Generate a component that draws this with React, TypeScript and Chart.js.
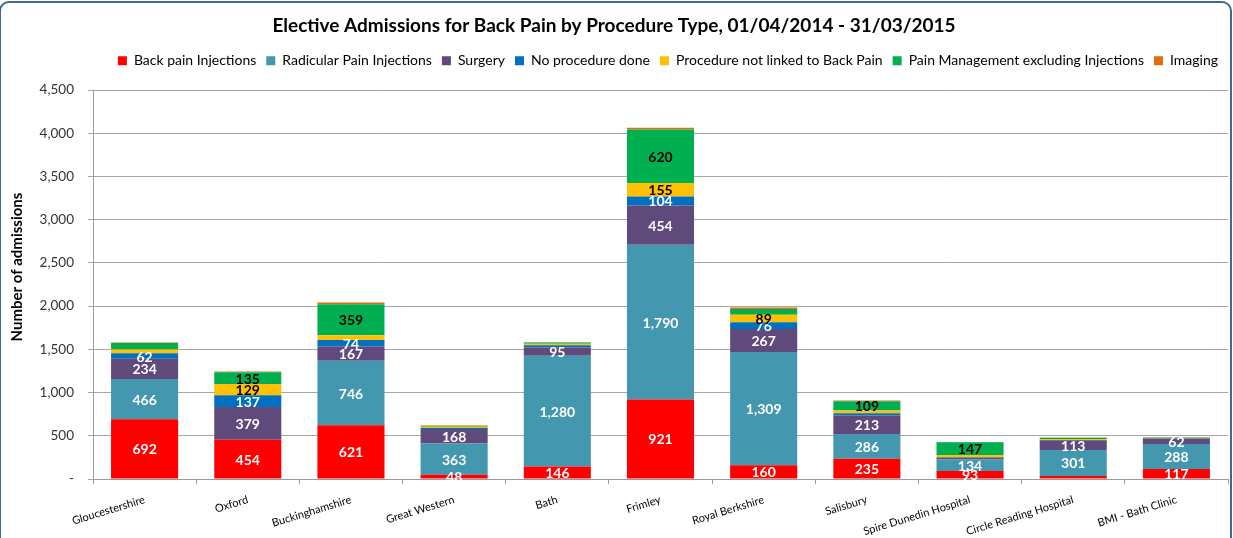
import React, { useEffect, useRef } from "react";
import { Chart, registerables } from "chart.js";

Chart.register(...registerables);

const titleText = "Elective Admissions for Back Pain by Procedure Type, 01/04/2014 - 31/03/2015";
const yAxisTitle = "Number of admissions";

const categories = [
  "Gloucestershire",
  "Oxford",
  "Buckinghamshire",
  "Great Western",
  "Bath",
  "Frimley",
  "Royal Berkshire",
  "Salisbury",
  "Spire Dunedin Hospital",
  "Circle Reading Hospital",
  "BMI - Bath Clinic",
];

const seriesNames = [
  "Back pain Injections",
  "Radicular Pain Injections",
  "Surgery",
  "No procedure done",
  "Procedure not linked to Back Pain",
  "Pain Management excluding Injections",
  "Imaging",
];

const backPainInjections = [692, 454, 621, 48, 146, 921, 160, 235, 93, 35, 117];
const radicularPainInjections = [466, 0, 746, 363, 1280, 1790, 1309, 286, 134, 301, 288];
const surgery = [234, 379, 167, 168, 95, 454, 267, 213, 20, 113, 62];
const noProcedureDone = [62, 137, 74, 12, 25, 104, 76, 27, 5, 3, 3];
const procedureNotLinked = [43, 129, 55, 12, 20, 155, 89, 30, 25, 10, 8];
const painManagement = [77, 135, 359, 10, 12, 620, 65, 109, 147, 15, 5];
const imaging = [5, 10, 20, 6, 3, 20, 18, 8, 3, 3, 2];

// which segments carry a data label in the reference
const backPainShown = [true, true, true, true, true, true, true, true, true, false, true];
const radicularShown = [true, false, true, true, true, true, true, true, true, true, true];
const surgeryShown = [true, true, true, true, true, true, true, true, false, true, true];
const noProcedureShown = [true, true, true, false, false, true, true, false, false, false, false];
const notLinkedShown = [false, true, false, false, false, true, true, false, false, false, false];
const painMgmtShown = [false, true, true, false, false, true, false, true, true, false, false];
const imagingShown = [false, false, false, false, false, false, false, false, false, false, false];

const yTicks = [0, 500, 1000, 1500, 2000, 2500, 3000, 3500, 4000, 4500];

const colors = ["#FF0000", "#4397AE", "#604A7B", "#0070C0", "#FFC000", "#00B050", "#E46C0A"];
const labelColors = ["#FFFFFF", "#FFFFFF", "#FFFFFF", "#FFFFFF", "#000000", "#000000", "#000000"];

const seriesValues = [
  backPainInjections,
  radicularPainInjections,
  surgery,
  noProcedureDone,
  procedureNotLinked,
  painManagement,
  imaging,
];
const seriesShown = [
  backPainShown,
  radicularShown,
  surgeryShown,
  noProcedureShown,
  notLinkedShown,
  painMgmtShown,
  imagingShown,
];

const FONT = "Lato, 'Liberation Sans', sans-serif";

const segmentLabels = {
  id: "segmentLabels",
  afterDatasetsDraw(chart: any) {
    const ctx = chart.ctx;
    ctx.save();
    ctx.font = `bold 14px ${FONT}`;
    ctx.textAlign = "center";
    ctx.textBaseline = "middle";
    chart.data.datasets.forEach((ds: any, i: number) => {
      const meta = chart.getDatasetMeta(i);
      if (meta.hidden) return;
      meta.data.forEach((bar: any, j: number) => {
        if (!seriesShown[i][j]) return;
        const v = ds.data[j];
        const cy = (bar.y + bar.base) / 2 + 1;
        ctx.fillStyle = labelColors[i];
        ctx.fillText(Number(v).toLocaleString("en-US"), bar.x, cy);
      });
    });
    ctx.restore();
  },
};

const yTitlePlugin = {
  id: "yTitlePlugin",
  afterDraw(chart: any) {
    const ctx = chart.ctx;
    ctx.save();
    ctx.translate(17, 267);
    ctx.rotate(-Math.PI / 2);
    ctx.font = `bold 15px ${FONT}`;
    ctx.fillStyle = "#000";
    ctx.textAlign = "center";
    ctx.textBaseline = "middle";
    ctx.fillText(yAxisTitle, 0, 0);
    ctx.restore();
  },
};

export default function App() {
  const canvasRef = useRef<HTMLCanvasElement>(null);

  useEffect(() => {
    const canvas = canvasRef.current;
    if (!canvas) return;
    const chart = new Chart(canvas, {
      type: "bar",
      data: {
        labels: categories,
        datasets: seriesNames.map((name, i) => ({
          label: name,
          data: seriesValues[i],
          backgroundColor: colors[i],
          borderWidth: 0,
          categoryPercentage: 1,
          barPercentage: 0.65,
        })),
      },
      options: {
        responsive: false,
        animation: false,
        events: [],
        layout: { padding: { left: 0, right: 5, top: 0, bottom: 0 } },
        plugins: {
          title: {
            display: true,
            text: titleText,
            color: "#000",
            font: { family: FONT, size: 19, weight: "bold" },
            padding: { top: 14, bottom: 7 },
          },
          subtitle: {
            display: true,
            text: " ",
            font: { size: 1 },
            padding: { top: 0, bottom: 11 },
            weight: 500,
          } as any,
          legend: {
            display: true,
            position: "top",
            align: "end",
            weight: 1600,
            labels: {
              boxWidth: 9,
              boxHeight: 9,
              padding: 10,
              color: "#000",
              font: { family: FONT, size: 14 },
            },
          } as any,
          tooltip: { enabled: false },
        },
        scales: {
          x: {
            stacked: true,
            grid: {
              display: true,
              drawOnChartArea: false,
              drawTicks: true,
              tickLength: 5,
              offset: true,
              color: "#9a9a9a",
            },
            border: { display: true, color: "#9a9a9a" },
            ticks: {
              minRotation: 17,
              maxRotation: 17,
              autoSkip: false,
              padding: 9,
              color: "#000",
              font: { family: FONT, size: 11 },
            },
            afterFit(scale: any) {
              scale.height = 59;
            },
          },
          y: {
            stacked: true,
            min: 0,
            max: 4500,
            afterBuildTicks(scale: any) {
              scale.ticks = yTicks.map((v) => ({ value: v }));
            },
            grid: {
              color: "#a6a6a6",
              drawTicks: true,
              tickLength: 5,
            },
            border: { display: true, color: "#9a9a9a" },
            ticks: {
              padding: 14,
              color: "#333",
              font: { family: FONT, size: 13.5 },
              callback: (v: any) => (Number(v) === 0 ? "-" : Number(v).toLocaleString("en-US")),
            },
            title: { display: false },
            afterFit(scale: any) {
              scale.width = 93;
            },
          },
        },
      },
      plugins: [segmentLabels, yTitlePlugin],
    });
    return () => chart.destroy();
  }, []);

  return (
    <div style={{ position: "fixed", left: 0, top: 0, width: 1233, height: 538, background: "#fff", overflow: "hidden" }}>
      <div
        style={{
          position: "absolute",
          left: -1,
          top: 1,
          width: 1233,
          height: 700,
          boxSizing: "border-box",
          border: "2px solid #44668f",
          borderRadius: 10,
        }}
      />
      <canvas ref={canvasRef} width={1233} height={538} style={{ position: "absolute", left: 0, top: 0 }} />
    </div>
  );
}
